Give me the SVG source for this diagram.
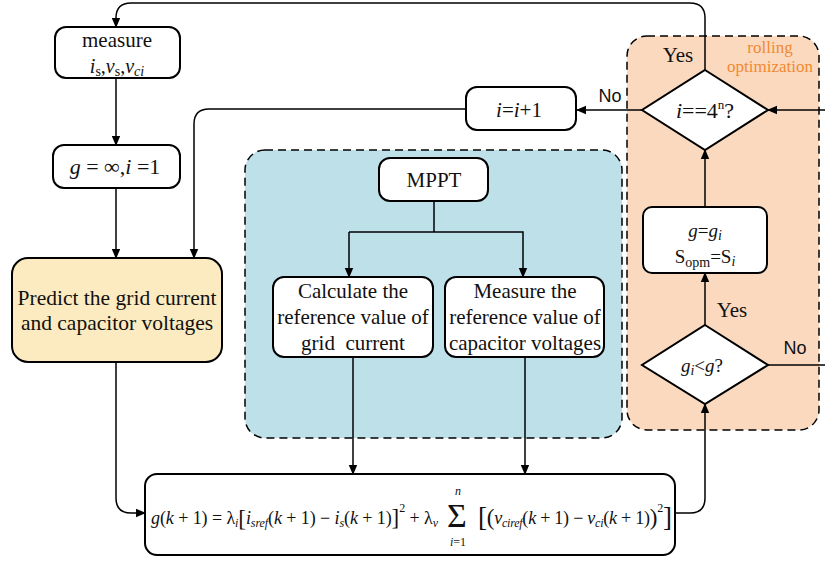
<svg xmlns="http://www.w3.org/2000/svg" width="825" height="561" viewBox="0 0 825 561">
  <defs>
    <marker id="arrow" markerWidth="10" markerHeight="10" refX="9" refY="5" orient="auto" markerUnits="userSpaceOnUse">
      <path d="M0,0.8 L10,5 L0,9.2 Z" fill="#000"/>
    </marker>
    <style>
      .box { fill: #fff; stroke: #000; stroke-width: 2; }
      .dia { fill: #fff; stroke: #000; stroke-width: 2; }
      .region { stroke: #000; stroke-width: 1.5; stroke-dasharray: 8 5; }
      .wire { fill: none; stroke: #000; stroke-width: 1.5; }
      .arr { marker-end: url(#arrow); }
      .t { font-family: "Liberation Serif", "Times New Roman", serif; fill: #111; }
      .s { font-family: "Liberation Sans", Arial, sans-serif; fill: #111; }
      .it { font-style: italic; }
      .orange { fill: #f08a30; }
    </style>
  </defs>

  <!-- shaded regions -->
  <rect id="region-mppt" class="region" x="245" y="150" width="377" height="288" rx="20" fill="#bde0e9"/>
  <g id="region-rolling">
    <rect class="region" x="627" y="36" width="192" height="394" rx="20" fill="#fbd9bf"/>
    <text class="t orange" x="770" y="53" font-size="17" text-anchor="middle">rolling</text>
    <text class="t orange" x="770" y="72" font-size="17" text-anchor="middle">optimization</text>
  </g>

  <!-- connectors -->
  <g id="connectors">
    <path class="wire arr" d="M705,70 V18 Q705,3 690,3 H131 Q116,3 116,18 V27"/>
    <path class="wire arr" d="M116,78 V145"/>
    <path class="wire arr" d="M116,188 V258"/>
    <path class="wire arr" d="M466,109 H209 Q194,109 194,124 V258"/>
    <path class="wire arr" d="M642,110 H577"/>
    <path class="wire arr" d="M825,110 H768"/>
    <path class="wire arr" d="M705,207 V150"/>
    <path class="wire arr" d="M705,325 V273"/>
    <path class="wire" d="M768,365 H825"/>
    <path class="wire arr" d="M675,513 H690 Q705,513 705,498 V404"/>
    <path class="wire arr" d="M116,362 V498 Q116,513 131,513 H145"/>
    <path class="wire" d="M434,201 V232"/>
    <path class="wire arr" d="M349,232 H523 V277"/>
    <path class="wire arr" d="M349,232 V277"/>
    <path class="wire arr" d="M353,357 V474"/>
    <path class="wire arr" d="M525,357 V474"/>
  </g>

  <!-- nodes -->
  <g id="measure">
    <rect class="box" x="55" y="27" width="125" height="51" rx="11"/>
    <text class="t" x="117" y="47" font-size="21" text-anchor="middle">measure</text>
    <text class="t" x="117" y="73" font-size="20" text-anchor="middle"><tspan class="it">i</tspan><tspan font-size="14" dy="3">s</tspan><tspan dy="-3">,</tspan><tspan class="it">v</tspan><tspan font-size="14" dy="3">s</tspan><tspan dy="-3">,</tspan><tspan class="it">v</tspan><tspan class="it" font-size="14" dy="3">ci</tspan></text>
  </g>

  <g id="init">
    <rect class="box" x="53" y="145" width="127" height="43" rx="11"/>
    <text class="t" x="115" y="174" font-size="22" text-anchor="middle"><tspan class="it">g</tspan> = ∞,<tspan class="it">i</tspan> =1</text>
  </g>

  <g id="predict">
    <rect class="box" x="12" y="258" width="210" height="104" rx="16" style="fill:#fcebc0"/>
    <text class="t" x="117" y="305" font-size="21.5" text-anchor="middle">Predict the grid current</text>
    <text class="t" x="117" y="330" font-size="21.5" text-anchor="middle">and capacitor voltages</text>
  </g>

  <g id="increment">
    <rect class="box" x="466" y="87" width="110" height="43" rx="11"/>
    <text class="t" x="519" y="117" font-size="21" text-anchor="middle"><tspan class="it">i</tspan>=<tspan class="it">i</tspan>+1</text>
  </g>

  <g id="check-count">
    <polygon class="dia" points="705,70 768,110 705,150 642,110"/>
    <text class="t" x="705" y="118" font-size="22" text-anchor="middle"><tspan class="it">i</tspan>==4<tspan font-size="13" dy="-9">n</tspan><tspan dy="9">?</tspan></text>
    <text class="t" x="678" y="62" font-size="21" text-anchor="middle">Yes</text>
    <text class="s" x="610" y="102" font-size="18" text-anchor="middle">No</text>
  </g>

  <g id="update">
    <rect class="box" x="643" y="207" width="124" height="66" rx="9"/>
    <text class="t" x="705" y="237" font-size="19" text-anchor="middle"><tspan class="it">g</tspan>=<tspan class="it">g</tspan><tspan class="it" font-size="14" dy="3">i</tspan></text>
    <text class="t" x="705" y="263" font-size="19" text-anchor="middle">S<tspan font-size="14" dy="4">opm</tspan><tspan dy="-4">=S</tspan><tspan class="it" font-size="14" dy="3">i</tspan></text>
  </g>

  <g id="compare">
    <polygon class="dia" points="705,325 768,365 705,404 642,365"/>
    <text class="t" x="702" y="372" font-size="19" text-anchor="middle"><tspan class="it">g</tspan><tspan class="it" font-size="14" dy="3">i</tspan><tspan dy="-3">&lt;</tspan><tspan class="it">g</tspan>?</text>
    <text class="t" x="732" y="317" font-size="21" text-anchor="middle">Yes</text>
    <text class="s" x="795" y="354" font-size="18" text-anchor="middle">No</text>
  </g>

  <g id="mppt">
    <rect class="box" x="379" y="158" width="109" height="43" rx="11"/>
    <text class="t" x="434" y="187" font-size="21" text-anchor="middle">MPPT</text>
  </g>

  <g id="calc-current">
    <rect class="box" x="273" y="277" width="160" height="80" rx="11"/>
    <text class="t" x="353" y="298" font-size="21" text-anchor="middle">Calculate the</text>
    <text class="t" x="353" y="324" font-size="21" text-anchor="middle">reference value of</text>
    <text class="t" x="353" y="350" font-size="21" text-anchor="middle">grid&#160; current</text>
  </g>

  <g id="measure-voltage">
    <rect class="box" x="445" y="277" width="159" height="80" rx="11"/>
    <text class="t" x="525" y="298" font-size="21" text-anchor="middle">Measure the</text>
    <text class="t" x="525" y="324" font-size="21" text-anchor="middle">reference value of</text>
    <text class="t" x="525" y="350" font-size="21" text-anchor="middle">capacitor voltages</text>
  </g>

  <g id="cost">
    <rect class="box" x="145" y="474" width="530" height="81" rx="12"/>
    <text class="t" x="151" y="524" font-size="18" textLength="287" lengthAdjust="spacing"><tspan class="it">g</tspan>(<tspan class="it">k</tspan> + 1) = λ<tspan class="it" font-size="12" dy="3">i</tspan><tspan font-size="23" dy="-1">[</tspan><tspan class="it" dy="-2">i</tspan><tspan class="it" font-size="12" dy="3">sref</tspan><tspan dy="-3">(</tspan><tspan class="it">k</tspan> + 1) − <tspan class="it">i</tspan><tspan class="it" font-size="12" dy="3">s</tspan><tspan dy="-3">(</tspan><tspan class="it">k</tspan> + 1)<tspan font-size="23" dy="1">]</tspan><tspan font-size="12" dy="-13">2</tspan><tspan dy="12"> + λ</tspan><tspan class="it" font-size="12" dy="3">v</tspan></text>
    <text class="t" x="457" y="527" font-size="34" text-anchor="middle">Σ</text>
    <text class="t it" x="458" y="495" font-size="12" text-anchor="middle">n</text>
    <text class="t" x="458" y="546" font-size="12" text-anchor="middle"><tspan class="it">i</tspan>=1</text>
    <text class="t" x="478" y="524" font-size="18" textLength="194" lengthAdjust="spacing"><tspan font-size="27" dy="2">[</tspan><tspan font-size="23" dy="-1">(</tspan><tspan class="it" dy="-1">v</tspan><tspan class="it" font-size="12" dy="3">ciref</tspan><tspan dy="-3">(</tspan><tspan class="it">k</tspan> + 1) − <tspan class="it">v</tspan><tspan class="it" font-size="12" dy="3">ci</tspan><tspan dy="-3">(</tspan><tspan class="it">k</tspan> + 1)<tspan font-size="23" dy="1">)</tspan><tspan font-size="12" dy="-13">2</tspan><tspan font-size="27" dy="14">]</tspan></text>
  </g>
</svg>
